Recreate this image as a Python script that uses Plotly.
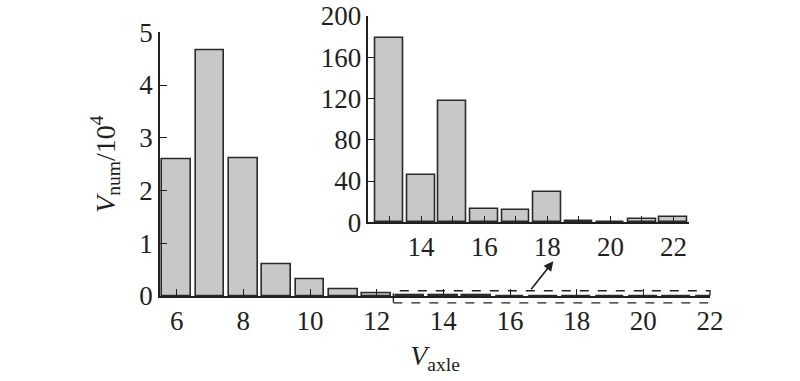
import plotly.graph_objects as go

# Data
axle_counts = [6, 7, 8, 9, 10, 11, 12, 13, 14, 15, 16, 17, 18, 19, 20, 21, 22]
num_main = [2.60, 4.66, 2.62, 0.60, 0.32, 0.12, 0.045]  # x10^4, axles 6-12
inset_axles = [13, 14, 15, 16, 17, 18, 19, 20, 21, 22]
inset_values = [179, 46, 118, 13, 12, 29, 1, 0, 3, 5]  # raw counts
main_values = num_main + [v / 1e4 for v in inset_values]

main_xticks = [6, 8, 10, 12, 14, 16, 18, 20, 22]
main_yticks = [0, 1, 2, 3, 4, 5]
inset_xticks = inset_axles
inset_xticklabels = [str(v) if v % 2 == 0 else "" for v in inset_axles]
inset_yticks = [0, 40, 80, 120, 160, 200]

FONT = "Liberation Serif, Times New Roman, serif"
INK = "#231f20"
FILL = "#c8c8c8"
EDGE = "#2a2a2a"

W, H = 800, 381
L, R, T, B = 160, 90, 10, 85
PH = H - T - B
PW = W - L - R
X_RANGE = [5.5, 22]
Y_RANGE = [0, 5]
MAIN_YTOP = (296 - 32.3) / PH

fig = go.Figure()
fig.add_trace(go.Bar(
    x=axle_counts, y=main_values, width=0.86,
    marker=dict(color=FILL, line=dict(color=EDGE, width=1.6)),
    xaxis="x", yaxis="y", showlegend=False,
))
fig.add_trace(go.Bar(
    x=inset_axles, y=inset_values, width=0.88,
    marker=dict(color=FILL, line=dict(color=EDGE, width=1.6)),
    xaxis="x2", yaxis="y2", showlegend=False,
))

axis_common = dict(
    showgrid=False, zeroline=False, showline=True, linecolor=INK, linewidth=1.5,
    ticks="inside", ticklen=7, tickwidth=1.3, tickcolor=INK, automargin=False,
    ticklabeloverflow="allow",
    tickfont=dict(family=FONT, size=27, color=INK),
)

fig.update_layout(
    width=W, height=H,
    margin=dict(l=L, r=R, t=T, b=B),
    plot_bgcolor="white", paper_bgcolor="white",
    bargap=0,
    xaxis=dict(**axis_common, range=X_RANGE, tickvals=main_xticks, domain=[0, 1],
               title=dict(text="<i>V</i><sub>axle</sub>", font=dict(family=FONT, size=28, color=INK), standoff=10)),
    yaxis=dict(**axis_common, range=Y_RANGE, tickvals=main_yticks, domain=[0, MAIN_YTOP],
               title=dict(text="<i>V</i><sub>num</sub>/10<sup>4</sup>", font=dict(family=FONT, size=28, color=INK), standoff=16)),
    xaxis2=dict(**axis_common, range=[12.33, 22.5], tickvals=inset_xticks, ticktext=inset_xticklabels,
                anchor="y2", domain=[(368.3 - L) / PW, (689.3 - L) / PW]),
    yaxis2=dict(**axis_common, range=[0, 200], tickvals=inset_yticks,
                anchor="x2", domain=[(296 - 222.3) / PH, (296 - 16) / PH]),
)

# dashed zoom box (paper coordinates derived from main axis scale)
def px(xv):
    return (xv - X_RANGE[0]) / (X_RANGE[1] - X_RANGE[0])

def py(yv):
    return (yv - Y_RANGE[0]) / (Y_RANGE[1] - Y_RANGE[0]) * MAIN_YTOP

fig.add_shape(type="rect", xref="paper", yref="paper",
              x0=px(12.5), x1=px(22), y0=py(-0.13), y1=py(0.10),
              line=dict(color=INK, width=1.3, dash="dash"), fillcolor="rgba(0,0,0,0)")

fig.add_annotation(x=17.3, y=0.66, xref="x", yref="y", ax=16.6, ay=0.10, axref="x", ayref="y",
                   text="", showarrow=True, arrowhead=2, arrowsize=1.2, arrowwidth=1.6, arrowcolor=INK)

fig.write_html("out.html", config={"displayModeBar": False},
               post_script="document.body.style.margin='0';")
